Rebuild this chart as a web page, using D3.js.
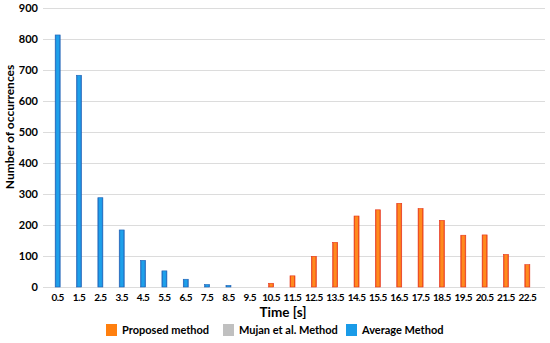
<!DOCTYPE html>
<html><head><meta charset="utf-8">
<script src="https://cdn.jsdelivr.net/npm/d3@7/dist/d3.min.js"></script>
<style>body{margin:0;background:#fff}svg{display:block}</style>
</head><body><svg id="c" width="550" height="343"></svg>
<script>
const categories = ["0.5","1.5","2.5","3.5","4.5","5.5","6.5","7.5","8.5","9.5","10.5","11.5","12.5","13.5","14.5","15.5","16.5","17.5","18.5","19.5","20.5","21.5","22.5"];
const proposed = [0,0,0,0,0,0,0,0,0,0,12,36,99,144,229,249,270,253,215,167,168,105,72];
const mujan    = [0,0,0,0,0,0,0,0,0,0,0,0,0,0,0,0,0,0,0,0,0,0,0];
const average  = [813,683,288,184,86,52,25,8,5,0,0,0,0,0,0,0,0,0,0,0,0,0,0];
const yTicks = [0,100,200,300,400,500,600,700,800,900];
const seriesNames = ["Proposed method","Mujan et al. Method","Average Method"];

const font = "Lato, 'Open Sans', sans-serif";
const svg = d3.select("#c");
const defs = svg.append("defs");
function grad(id, edge, mid){
  const g = defs.append("linearGradient").attr("id",id).attr("x1","0").attr("x2","1").attr("y1","0").attr("y2","0");
  g.append("stop").attr("offset","0").attr("stop-color",edge);
  g.append("stop").attr("offset","0.3").attr("stop-color",mid);
  g.append("stop").attr("offset","0.7").attr("stop-color",mid);
  g.append("stop").attr("offset","1").attr("stop-color",edge);
}
grad("gO","#e8401c","#ff8a1e");
grad("gG","#9a9a9a","#c8c8c8");
grad("gB","#1f6cc4","#1ea0ea");

const x = d3.scaleBand().domain(categories).range([47,538]);
const y = d3.scaleLinear().domain([0,900]).range([287,8]);
const bw = 5;

// gridlines
svg.append("g").selectAll("line").data(yTicks).join("line")
  .attr("x1",43).attr("x2",545).attr("y1",d=>y(d)+0.5).attr("y2",d=>y(d)+0.5)
  .attr("stroke","#dcdcdc").attr("stroke-width",1.2);

// y tick labels
const yAxis = d3.axisLeft(y).tickValues(yTicks).tickSize(0).tickPadding(0);
const ya = svg.append("g").attr("transform","translate(38,0)").call(yAxis);
ya.select(".domain").remove();
ya.selectAll("text").attr("font-family",font).attr("font-weight","bold").attr("font-size","11px").attr("fill","#000");

// x tick labels
const xAxis = d3.axisBottom(x).tickSize(0).tickPadding(0);
const xa = svg.append("g").attr("transform","translate(0,294)").call(xAxis);
xa.select(".domain").remove();
xa.selectAll("text").attr("font-family",font).attr("font-weight","bold").attr("font-size","10px")
  .attr("letter-spacing","-0.5px").attr("fill","#000");

// bars (stacked, centered)
const series = [
  {fill:"url(#gO)", stroke:"#e8341a"},
  {fill:"url(#gG)", stroke:"#999"},
  {fill:"url(#gB)", stroke:"#1d5fb4"}
];
const stackData = categories.map((c,i)=>({c, p:proposed[i], m:mujan[i], a:average[i]}));
const stacked = d3.stack().keys(["p","m","a"])(stackData);
stacked.forEach((layer,k)=>{
  svg.append("g").selectAll("rect").data(layer.filter(d=>d[1]-d[0]>0)).join("rect")
    .attr("x",d=>x(d.data.c)+x.bandwidth()/2-bw/2)
    .attr("width",bw)
    .attr("y",d=>y(d[1]))
    .attr("height",d=>y(d[0])-y(d[1]))
    .attr("fill",series[k].fill)
    .attr("stroke",series[k].stroke).attr("stroke-width",0.6);
});

// axis titles
svg.append("text").attr("x",283).attr("y",317).attr("text-anchor","middle")
  .attr("font-family",font).attr("font-weight","bold").attr("font-size","13.5px").text("Time [s]");
svg.append("text").attr("transform","translate(14,127) rotate(-90)").attr("text-anchor","middle")
  .attr("font-family",font).attr("font-weight","bold").attr("font-size","12px").text("Number of occurrences");

// legend
const legX = [106,223,346];
const legFill = ["#ff7f0e","#c0c0c0","#1a9be8"];
const lg = svg.append("g").selectAll("g").data(seriesNames).join("g")
  .attr("transform",(d,i)=>`translate(${legX[i]},324)`);
lg.append("rect").attr("width",11).attr("height",12).attr("fill",(d,i)=>legFill[i]);
lg.append("text").attr("x",16).attr("y",10).attr("font-family",font).attr("font-weight","bold")
  .attr("font-size","11px").text(d=>d);
</script></body></html>
